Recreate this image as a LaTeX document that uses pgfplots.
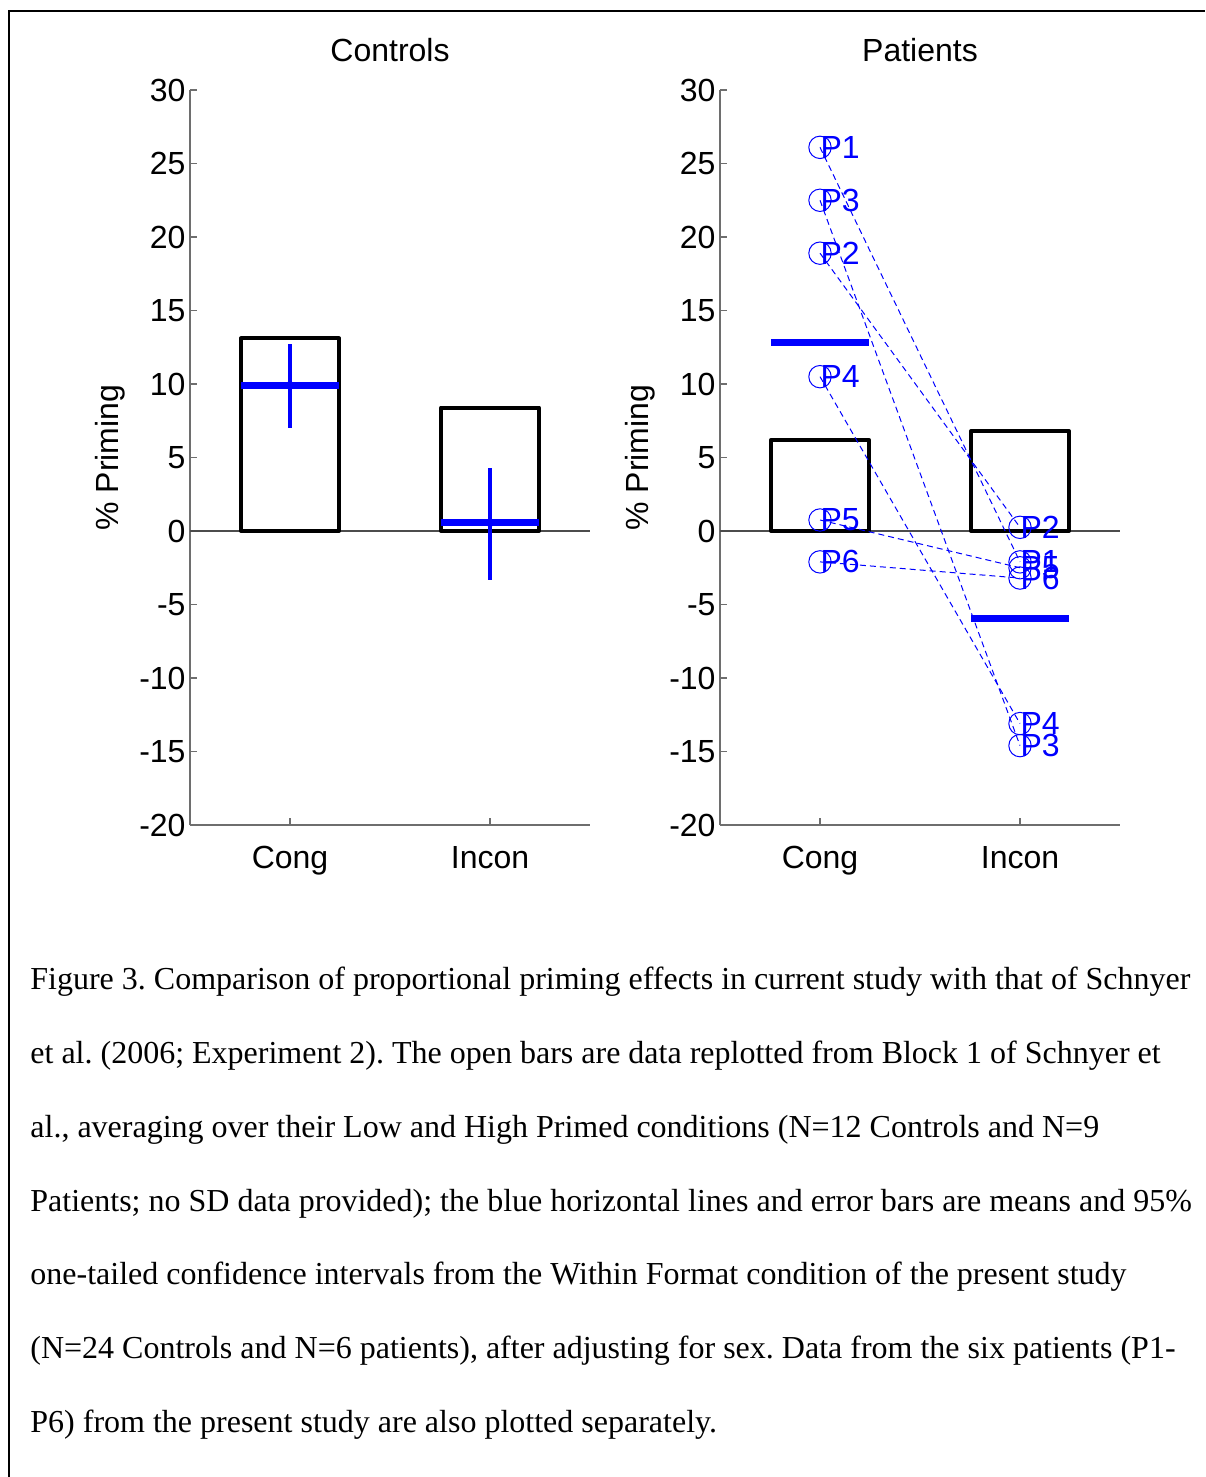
\documentclass[border=0pt]{standalone}
\usepackage{fontspec}
\setmainfont{Liberation Serif}
\newfontfamily\arial{Liberation Sans}
\usepackage{pgfplots}
\pgfplotsset{compat=1.18}
\definecolor{mblue}{RGB}{0,0,255}
\definecolor{axgray}{RGB}{110,110,110}
\newcommand{\chartfont}{\arial\fontsize{16}{19}\selectfont}
\pgfplotsset{
  mystyle/.style={
    scale only axis, width=200pt, height=367.5pt,
    xmin=0.5, xmax=2.5, ymin=-20, ymax=30,
    axis x line*=bottom, axis y line*=left,
    axis line style={axgray, line width=0.6pt},
    xtick={1,2}, xticklabels={Cong,Incon},
    ytick={-20,-15,-10,-5,0,5,10,15,20,25,30},
    yticklabels={-20,-15,-10,-5,0,5,10,15,20,25,30},
    tick align=inside, major tick length=3.5pt,
    tick style={axgray, line width=0.6pt},
    ticklabel style={font=\chartfont, text=black},
    xticklabel style={yshift=-7pt},
    yticklabel style={xshift=1.3pt},
    ylabel={\% Priming},
    ylabel style={font=\chartfont, at={(axis description cs:-0.2,0.5)}, anchor=center},
    title style={font=\chartfont, at={(axis description cs:0.5,1.0544)}, anchor=center, yshift=-6pt},
    clip=false,
  },
  meanline/.style={mblue, line width=3.6pt, line cap=butt},
  barstyle/.style={ybar, bar width=0.49, bar shift=0pt, draw=black, fill=none, line width=2pt, line join=round},
  zeroline/.style={black!70, line width=0.6pt},
  patline/.style={mblue, line width=0.5pt, dash pattern=on 3pt off 2pt},
}
\begin{document}
\frenchspacing
\begin{tikzpicture}
\useasboundingbox (0,0) rectangle (602.5pt,-738.5pt);
\draw[black, line width=1pt] (4.5pt,-738.5pt) -- (4.5pt,-5.5pt) -- (602.5pt,-5.5pt);

% Controls
\begin{axis}[mystyle, at={(95pt,-412.5pt)}, anchor=south west, title={Controls}]
\addplot[zeroline] coordinates {(0.5,0) (2.5,0)};
\addplot[barstyle] coordinates {(1,13.1) (2,8.4)};
\addplot[mblue, only marks, mark=none,
  error bars/.cd, y dir=both, y explicit, error mark=none,
  error bar style={mblue, line width=1.8pt}]
  coordinates {(1,9.9) += (0,2.8) -= (0,2.9) (2,0.57) += (0,3.73) -= (0,3.9)};
\addplot[meanline] coordinates {(0.755,9.9) (1.245,9.9)};
\addplot[meanline] coordinates {(1.755,0.57) (2.245,0.57)};
\end{axis}

% Patients
\begin{axis}[mystyle, at={(360pt,-412.5pt)}, anchor=south west, title={Patients}]
\addplot[zeroline] coordinates {(0.5,0) (2.5,0)};
\addplot[barstyle] coordinates {(1,6.2) (2,6.8)};
\addplot[meanline] coordinates {(0.755,12.8) (1.245,12.8)};
\addplot[meanline] coordinates {(1.755,-5.94) (2.245,-5.94)};
% individual patients
\addplot[patline] coordinates {(1,26.1) (2,-2.1)};
\addplot[patline] coordinates {(1,18.9) (2,0.25)};
\addplot[patline] coordinates {(1,22.5) (2,-14.6)};
\addplot[patline] coordinates {(1,10.5) (2,-13.1)};
\addplot[patline] coordinates {(1,0.75) (2,-2.5)};
\addplot[patline] coordinates {(1,-2.1) (2,-3.2)};
\addplot[mblue, only marks, mark=o, mark size=5.6pt, mark options={line width=0.5pt},
  nodes near coords, point meta=explicit symbolic,
  every node near coord/.append style={anchor=west, inner sep=0pt, font=\chartfont, text=mblue}]
  coordinates {
  (1,26.1) [P1]
  (1,22.5) [P3]
  (1,18.9) [P2]
  (1,10.5) [P4]
  (1,0.75) [P5]
  (1,-2.1) [P6]
  (2,0.25) [P2]
  (2,-2.1) [P1]
  (2,-2.5) [P5]
  (2,-3.2) [P6]
  (2,-13.1) [P4]
  (2,-14.6) [P3]
  };
\end{axis}

% caption
\begin{scope}[every node/.style={anchor=base west, inner sep=0pt, font=\fontsize{16}{19}\selectfont}]
\node at (15pt,-494.5pt) {Figure 3. Comparison of proportional priming effects in current study with that of Schnyer};
\node at (15pt,-531.5pt) {et al. (2006; Experiment 2). The open bars are data replotted from Block 1 of Schnyer et};
\node at (15pt,-568.5pt) {al., averaging over their Low and High Primed conditions (N=12 Controls and N=9};
\node at (15pt,-605.5pt) {Patients; no SD data provided); the blue horizontal lines and error bars are means and 95\%};
\node at (15pt,-642pt) {one-tailed confidence intervals from the Within Format condition of the present study};
\node at (15pt,-679pt) {(N=24 Controls and N=6 patients), after adjusting for sex. Data from the six patients (P1-};
\node at (15pt,-716pt) {P6) from the present study are also plotted separately.};
\end{scope}
\end{tikzpicture}
\end{document}
